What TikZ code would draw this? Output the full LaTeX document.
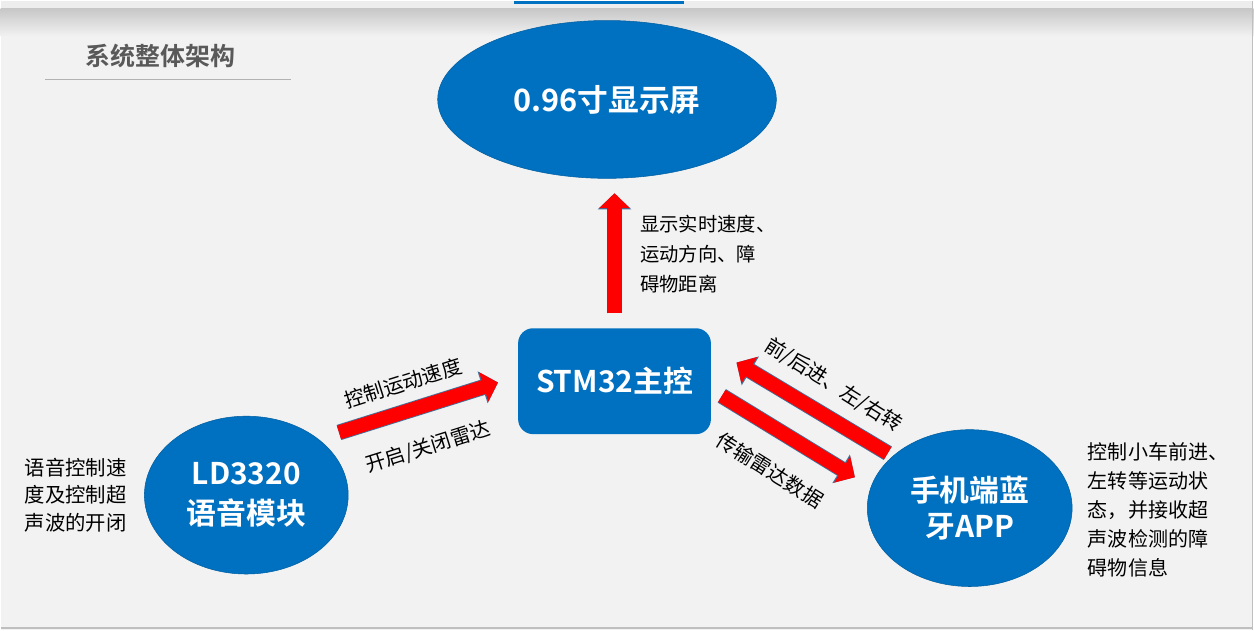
\documentclass[tikz,border=0pt]{standalone}
\usepackage{fontspec}
\setmainfont{Noto Sans CJK SC}[BoldFont={Noto Sans CJK SC Bold}]
\usetikzlibrary{shapes.geometric,arrows.meta,calc}
\definecolor{sysBlue}{HTML}{0070C0}
\definecolor{sysBack}{HTML}{F2F2F2}
\definecolor{sysEdge}{HTML}{41719C}
\definecolor{sysTitle}{HTML}{595959}
\begin{document}
\begin{tikzpicture}[
    x=0.02cm, y=-0.02cm,
    sysEllipse/.style={ellipse,draw=sysBlue!85!black,line width=0.3pt,fill=sysBlue,text=white,align=center,inner sep=0pt,outer sep=0pt},
    sysBox/.style={rectangle,rounded corners=0.3cm,fill=sysBlue,text=white,minimum width=3.86cm,minimum height=2.12cm,outer sep=0pt,font=\fontsize{17}{20}\selectfont\bfseries},
    sysArrow/.style={red,line width=8pt,-{Triangle[length=8.5pt,width=17pt]},
        preaction={draw=sysEdge,line width=9pt,-{Triangle[length=9.2pt,width=18.6pt]}}},
    sysLabel/.style={font=\fontsize{11.5}{14}\selectfont,inner sep=0pt},
    sysNote/.style={align=left,inner sep=0pt,anchor=west},
]
% --- background & header ---
\fill[sysBack] (0,0) rectangle (1254,630);
\fill[black!7] (0,0) rectangle (1254,8);
\shade[top color=black!22,bottom color=sysBack] (0,8) rectangle (1254,36);
\fill[sysBlue] (514,0) rectangle (684,3);
\draw[black!25,line width=0.6pt] (1253,0) -- (1253,630);
\draw[black!25,line width=0.6pt] (0,628) -- (1254,628);
\node[font=\fontsize{14.2}{16}\selectfont\bfseries,text=sysTitle] (title) at (160,56) {系统整体架构};
\draw[black!30,line width=0.6pt] (45,79) -- (291,79);
% --- blocks ---
\node[sysEllipse,minimum width=6.78cm,minimum height=3.16cm,font=\fontsize{17.5}{20}\selectfont\bfseries] (disp) at (607,99) {0.96寸显示屏};
\node[sysBox] (mcu) at (614.5,381) {STM32主控};
\node[sysEllipse,minimum width=4.08cm,minimum height=3.16cm,font=\fontsize{17}{23}\selectfont\bfseries] (voice) at (246,495) {LD3320\\语音模块};
\node[sysEllipse,minimum width=4.1cm,minimum height=3.14cm,font=\fontsize{17}{20}\selectfont\bfseries] (app) at (970,508) {手机端蓝\\牙APP};
% --- arrows ---
\draw[sysArrow,shorten <=8.5pt,shorten >=8.5pt] (mcu.north) -- (mcu.north |- disp.south);
\draw[sysArrow,shorten <=12.5pt,shorten >=12pt] (voice.38) -- ([yshift=0.1cm]mcu.west);
\draw[sysArrow,shorten <=3.4pt,shorten >=17pt] (app.146) -- ([yshift=0.68cm]mcu.east);
\draw[sysArrow,shorten <=7.3pt,shorten >=10.8pt] ([yshift=-0.16cm]mcu.east) -- (app.168);
% --- labels ---
\node[sysLabel,rotate=17.5] (lblSpeed) at (403,383) {控制运动速度};
\node[sysLabel,rotate=17.5] (lblRadar) at (428,447) {开启/关闭雷达};
\node[sysLabel,rotate=-32] (lblMove) at (834,385) {前/后进、左/右转};
\node[sysLabel,rotate=-32] (lblData) at (770,470) {传输雷达数据};
\node[sysNote,font=\fontsize{11}{17}\selectfont] (noteDisp) at (640,254) {显示实时速度、\\运动方向、障\\碍物距离};
\node[sysNote,font=\fontsize{11.6}{15.7}\selectfont] (noteVoice) at (24,495) {语音控制速\\度及控制超\\声波的开闭};
\node[sysNote,font=\fontsize{11.4}{16.5}\selectfont] (noteApp) at (1088,510) {控制小车前进、\\左转等运动状\\态，并接收超\\声波检测的障\\碍物信息};
\end{tikzpicture}
\end{document}
